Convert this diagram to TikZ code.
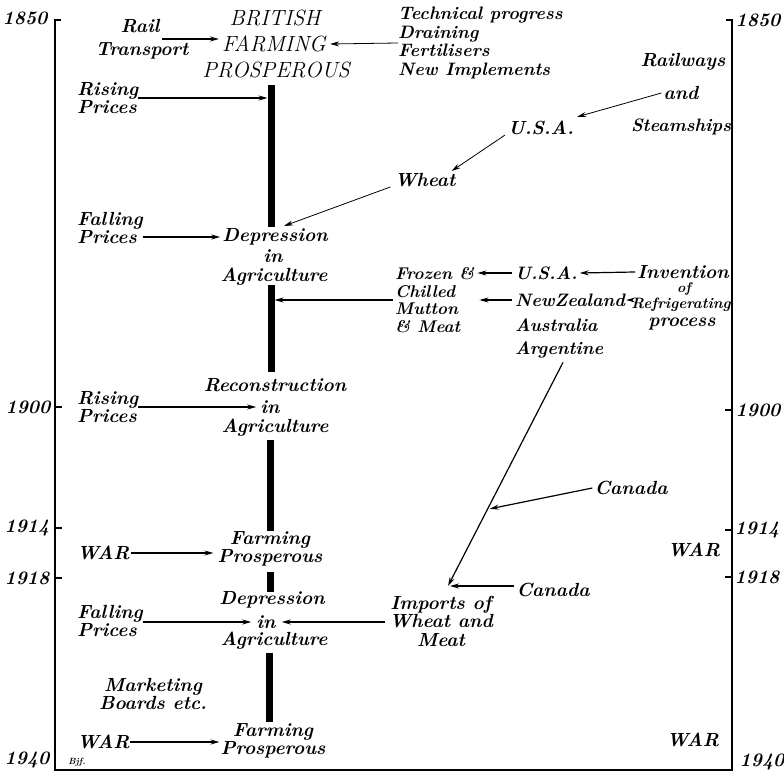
\documentclass[tikz,border=0pt]{standalone}
\usepackage{fontspec}
\usetikzlibrary{arrows.meta}
\begin{document}
\begin{tikzpicture}[x=1pt,y=-1pt,
  lab/.style={font=\fontsize{19}{18.5}\selectfont\itshape\bfseries, inner sep=0pt, align=center},
  labl/.style={lab, align=left, anchor=west},
  big/.style={font=\fontsize{22}{26}\selectfont\itshape, inner sep=0pt},
  yr/.style={font=\fontsize{19}{19}\selectfont\itshape\bfseries, inner sep=0pt},
  arr/.style={line width=1.2pt, -{Stealth[length=9pt,width=5pt]}},
  thin/.style={line width=0.8pt, -{Stealth[length=9pt,width=5pt]}},
  bar/.style={line width=7pt},
  frame/.style={line width=1.6pt}]
\useasboundingbox (0,0) rectangle (784,775);

% frame
\coordinate (fTL) at (55,20);
\coordinate (fBL) at (55,770);
\coordinate (fBR) at (732,770);
\coordinate (fTR) at (732,20);
\draw[frame] ([xshift=6pt]fTL) -- (fTL) -- (fBL) -- (fBR) -- (fTR) -- ([xshift=-6pt]fTR);

% years left
\node[yr] (l1850) at (25,18) {1850};
\node[yr] (l1900) at (28,407) {1900};
\node[yr] (l1914) at (27,528) {1914};
\node[yr] (l1918) at (27,578) {1918};
\node[yr] (l1940) at (27,760) {1940};
% years right
\node[yr] (r1850) at (758,20) {1850};
\node[yr] (r1900) at (758,410) {1900};
\node[yr] (r1914) at (757,530) {1914};
\node[yr] (r1918) at (757,577) {1918};
\node[yr] (r1940) at (762,762) {1940};
% ticks
\foreach \n in {l1900,l1914,l1918}
  \draw[frame] (fTL |- \n) -- ++(7,0);
\foreach \n in {r1900,r1914,r1918}
  \draw[frame] (fTR |- \n) -- ++(-7,0);

% central bar
\coordinate (b1t) at (271,85);  \coordinate (b1b) at (271,227);
\coordinate (b2t) at (271,285); \coordinate (b2b) at (271,372);
\coordinate (b3t) at (270,440); \coordinate (b3b) at (270,531);
\coordinate (b4t) at (270,572); \coordinate (b4b) at (270,592);
\coordinate (b5t) at (269,653); \coordinate (b5b) at (269,722);
\draw[bar] (b1t) -- (b1b);
\draw[bar] (b2t) -- (b2b);
\draw[bar] (b3t) -- (b3b);
\draw[bar] (b4t) -- (b4b);
\draw[bar] (b5t) -- (b5b);

% top
\node[big] (brit1) at (275,18) {BRITISH};
\node[big] (brit2) at (274,44) {FARMING};
\node[big] (brit3) at (276,70) {PROSPEROUS};
\node[lab] (railA) at (140,26) {Rail};
\node[lab] (railB) at (142,51) {Transport};
\node[labl, font=\fontsize{18}{18.7}\selectfont\itshape\bfseries] (tech) at (398,43) {Technical progress\\Draining\\Fertilisers\\New Implements};
\draw[arr] ([shift={(2pt,5pt)}]railA.east |- brit2.west) -- ([shift={(-3pt,5pt)}]brit2.west);
\draw[thin] (tech.west) -- ([xshift=4pt]brit2.east);

\node[labl] (rise1) at (77,98) {Rising\\Prices};
\draw[arr] (rise1.east) -- ([xshift=-3.5pt]rise1.east -| b1t);

\node[lab] (rails) at (683,62) {Railways};
\node[lab] (and) at (681,93) {and};
\node[lab, font=\fontsize{18}{18}\selectfont\itshape\bfseries] (steam) at (681,127) {Steamships};
\node[lab] (usa1) at (541,128) {U.S.A.};
\node[lab] (wheat) at (425,180) {Wheat};
\draw[thin] ([xshift=-2pt]and.west) -- ([shift={(3pt,4pt)}]usa1.north east);
\draw[thin] ([xshift=-3pt]usa1.south west) -- ([shift={(-4pt,2pt)}]wheat.north east);
\draw[thin] ([shift={(-4pt,0pt)}]wheat.south west) -- (284,226);

\node[labl] (fall1) at (77,228) {Falling\\Prices};
\node[lab] (depA) at (275,237) {Depression};
\node[lab] (depB) at (273,256) {in};
\node[lab] (depC) at (274,277) {Agriculture};
\draw[arr] (fall1.east |- depA) -- ([xshift=-2pt]depA.west);

% refrigeration
\node[labl, font=\fontsize{17}{17.5}\selectfont\itshape\bfseries] (frozen) at (395,300) {Frozen \&\\Chilled\\Mutton\\\& Meat};
\tikzset{cty/.style={labl, font=\fontsize{18}{18}\selectfont\itshape\bfseries}}
\node[cty] (usa2) at (515,273) {U.S.A.};
\node[cty] (nz) at (515,300) {NewZealand};
\node[cty] (aus) at (515,325) {Australia};
\node[cty] (arg) at (515,350) {Argentine};
\node[lab] (inv) at (683,272) {Invention};
\node[lab, font=\fontsize{14}{14}\selectfont\itshape\bfseries] (invof) at (684,289) {of};
\node[lab, font=\fontsize{15}{15}\selectfont\itshape\bfseries] (refrig) at (681,305) {Refrigerating};
\node[lab] (process) at (682,324) {process};
\draw[arr] ([xshift=-2pt]inv.west) -- ([xshift=2pt]usa2.east);
\draw[arr] ([xshift=-1pt]refrig.west |- nz) -- ([xshift=1pt]nz.east);
\draw[arr] ([xshift=-3pt]usa2.west) -- ([xshift=3pt]usa2.west -| frozen.east);
\draw[arr] ([xshift=-3pt]nz.west) -- ([xshift=5pt]nz.west -| frozen.east);
\draw[arr] ([xshift=-2pt]frozen.west) -- ([xshift=3.5pt]frozen.west -| b2t);

% 1900
\node[labl] (rise2) at (77,407) {Rising\\Prices};
\node[lab] (recA) at (275,385) {Reconstruction};
\node[lab] (recB) at (270,407) {in};
\node[lab] (recC) at (275,428) {Agriculture};
\draw[arr] (rise2.east) -- ([xshift=-4pt]recB.west);

% Canada and imports
\node[lab] (imports) at (441,621) {Imports of\\Wheat and\\Meat};
\coordinate (impTip) at (448,586);
\draw[arr] ([shift={(48pt,-4pt)}]arg.south west) -- coordinate[pos=0.655] (mid) (impTip);
\node[lab] (canada1) at (631,488) {Canada};
\node[lab] (canada2) at (553,590) {Canada};
\draw[arr] ([xshift=-2pt]canada1.west) -- ([xshift=2pt]mid);
\draw[arr] ([xshift=-2pt]canada2.west |- impTip) -- ([xshift=2pt]impTip);

% 1914
\node[labl] (war1) at (77,553) {WAR};
\node[lab] (farm1) at (270,549) {Farming\\Prosperous};
\draw[arr] ([xshift=1pt]war1.east) -- ([xshift=-4pt]war1.east -| farm1.west);
\node[lab] (warR) at (694,550) {WAR};

% 1918 depression
\node[lab] (dlA) at (272,600) {Depression};
\node[lab] (dlB) at (266,622) {in};
\node[lab] (dlC) at (274,641) {Agriculture};
\node[labl] (fall2) at (77,621) {Falling\\Prices};
\draw[arr] (fall2.east |- dlB) -- ([xshift=-5pt]dlB.west);
\draw[arr] ([xshift=-4pt]imports.west |- dlB) -- ([xshift=6pt]dlB.east);

% 1940
\node[lab] (mkt) at (153,694) {Marketing\\Boards etc.};
\node[labl] (war2) at (77,742) {WAR};
\node[lab] (farm2) at (273,741) {Farming\\Prosperous};
\draw[arr] (war2.east) -- ([xshift=-1pt]war2.east -| farm2.west);
\node[lab] (warR2) at (693,740) {WAR};
\node[font=\fontsize{9}{9}\selectfont\itshape\bfseries, inner sep=0pt] (sig) at (77,762) {Bjf.};
\end{tikzpicture}
\end{document}
